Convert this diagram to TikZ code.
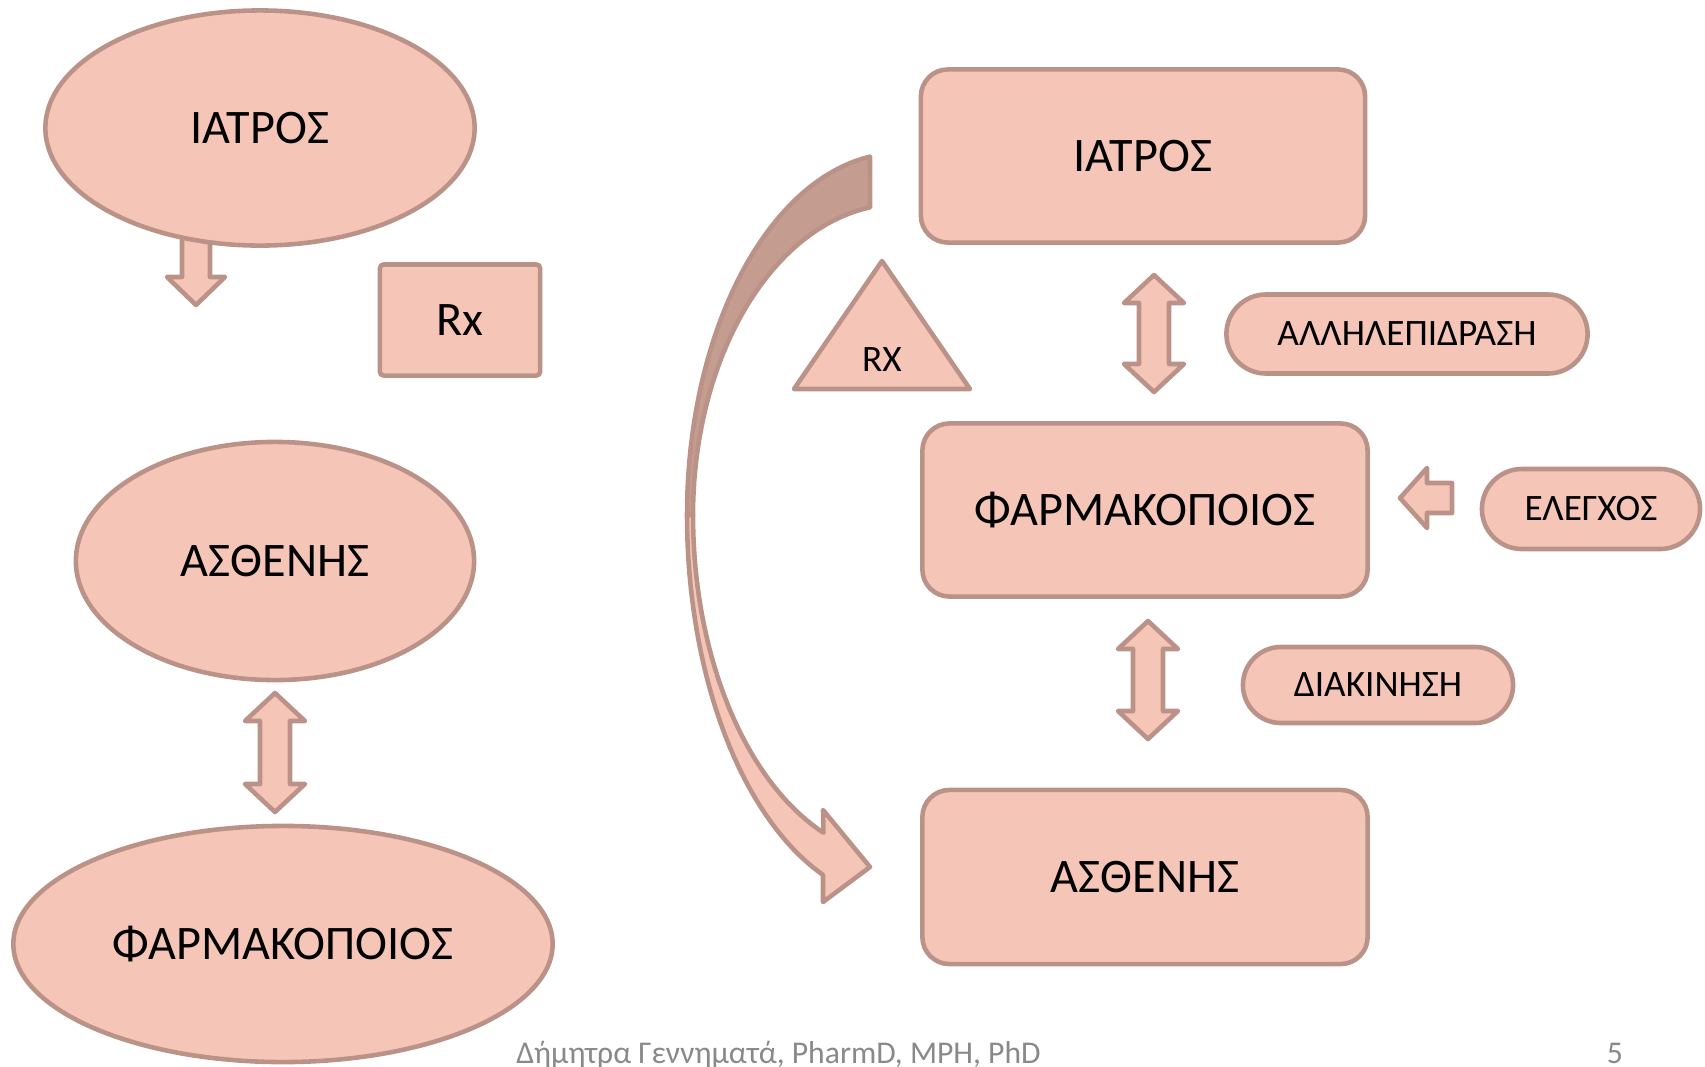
\documentclass[tikz,border=0pt]{standalone}
\usepackage{fontspec}
\setmainfont{Carlito}
\usepackage{tikz}
\usetikzlibrary{shapes.geometric,shapes.misc}
\definecolor{salmon}{RGB}{245,198,183}
\definecolor{rim}{RGB}{186,146,136}
\definecolor{backface}{RGB}{196,156,144}
\definecolor{credit}{RGB}{137,137,137}
% vertical double block arrow: x, top tip, bottom tip
\newcommand\updown[3]{%
\draw[blockarrow] (#1,#2) -- (#1+30,#2+28) -- (#1+15,#2+28) -- (#1+15,#3-28)
  -- (#1+30,#3-28) -- (#1,#3) -- (#1-30,#3-28) -- (#1-15,#3-28)
  -- (#1-15,#2+28) -- (#1-30,#2+28) -- cycle;
}

\begin{document}
\begin{tikzpicture}[x=0.01cm,y=-0.01cm,line width=1.3pt,line join=round,
    every node/.style={inner sep=0pt,font=\fontsize{13.7}{16}\selectfont},
    blockarrow/.style={draw=rim,fill=salmon},
    oval/.style={ellipse,draw=rim,fill=salmon},
    box/.style={rectangle,rounded corners=0.27cm,draw=rim,fill=salmon,
      minimum width=4.45cm,minimum height=1.73cm},
    pill/.style={rounded rectangle,draw=rim,fill=salmon,
      font=\fontsize{10.6}{12}\selectfont},
    footer/.style={text=credit,font=\fontsize{9}{11}\selectfont}]
	\useasboundingbox (0,0) rectangle (1705,1066);

	%% left column
	\draw[blockarrow] (182,235) -- (210,235) -- (210,277) -- (225,277) -- (196,305)
	  -- (167,277) -- (182,277) -- cycle;
	\node[oval,minimum width=4.29cm,minimum height=2.35cm] (iatrosL) at (260,128) {ΙΑΤΡΟΣ};
	\node[rectangle,rounded corners=1pt,draw=rim,fill=salmon,
	  minimum width=1.60cm,minimum height=1.11cm] (rxL) at (460,320) {Rx};
	\node[oval,minimum width=3.98cm,minimum height=2.38cm] (asthL) at (275,561) {ΑΣΘΕΝΗΣ};
	\updown{275}{693}{812}
	\node[oval,minimum width=5.39cm,minimum height=2.36cm] (farmL) at (283,944) {ΦΑΡΜΑΚΟΠΟΙΟΣ};

	%% curved arrow, back face then front
	\def\cx{900} % centre of the arcs
	\def\cy{515}
	\fill[backface,draw=rim]
	  plot[domain=261.9:180,samples=40] ({\cx+213*cos(\x)},{\cy+362*sin(\x)})
	  -- plot[domain=180:261.7,samples=40] ({\cx+207*cos(\x)},{\cy+311*sin(\x)})
	  -- cycle;
	\fill[salmon,draw=rim]
	  plot[domain=111.7:180,samples=40] ({\cx+207*cos(\x)},{\cy+342*sin(\x)})
	  -- plot[domain=180:111.2,samples=40] ({\cx+213*cos(\x)},{\cy+386*sin(\x)})
	  -- (823,902) -- (870,867) -- (823,810) -- cycle;

	%% right column
	\draw[blockarrow] (882,261) -- (970,389) -- (794,389) -- cycle;
	\node[font=\fontsize{10.6}{12}\selectfont] (rxT) at (882,360) {RX};
	\node[box,minimum width=4.44cm] (iatrosR) at (1143,156) {ΙΑΤΡΟΣ};
	\node[box] (farmR) at (1145,510) {ΦΑΡΜΑΚΟΠΟΙΟΣ};
	\node[box,minimum height=1.74cm] (asthR) at (1145,877) {ΑΣΘΕΝΗΣ};
	\updown{1154}{275}{392}
	\updown{1148}{621}{739}
	\draw[blockarrow] (1400,498) -- (1427,468) -- (1427,483) -- (1452,483) -- (1452,513)
	  -- (1427,513) -- (1427,528) -- cycle;
	\node[pill,minimum width=3.61cm,minimum height=0.79cm] (allil) at (1407,334) {ΑΛΛΗΛΕΠΙΔΡΑΣΗ};
	\node[pill,minimum width=2.18cm,minimum height=0.80cm] (elegx) at (1591,509) {ΕΛΕΓΧΟΣ};
	\node[pill,minimum width=2.70cm,minimum height=0.76cm] (diak) at (1378,685) {ΔΙΑΚΙΝΗΣΗ};

	%% footer
	\node[footer,anchor=base west] (credit) at (514,1063) {Δήμητρα Γεννηματά, PharmD, MPH, PhD};
	\node[footer,anchor=base] (pageno) at (1615,1063) {5};
\end{tikzpicture}
\end{document}
